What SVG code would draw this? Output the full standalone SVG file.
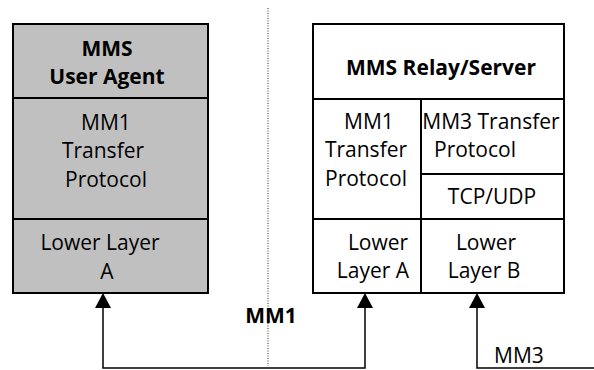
<svg xmlns="http://www.w3.org/2000/svg" width="594" height="370" viewBox="0 0 594 370">
<defs>
<style>
.box{stroke:#000;stroke-width:2;}
.div{stroke:#000;stroke-width:2;fill:none;}
.t{font-family:"Open Sans","Liberation Sans",sans-serif;font-size:21px;fill:#000;text-anchor:middle;}
.b{font-weight:bold;}
.conn{stroke:#000;stroke-width:1.5;fill:none;}
</style>
</defs>
<rect width="594" height="370" fill="#fff"/>
<line x1="268" y1="8" x2="268" y2="366" stroke="#333" stroke-width="1" stroke-dasharray="1,1.5"/>
<g id="user-agent">
<rect class="box" x="13" y="24" width="195" height="269" fill="#c0c0c0"/>
<line class="div" x1="13" y1="98" x2="208" y2="98"/>
<line class="div" x1="13" y1="219" x2="208" y2="219"/>
<text class="t b" x="107" y="56">MMS</text>
<text class="t b" x="107" y="84">User Agent</text>
<text class="t" x="106" y="130">MM1</text>
<text class="t" x="103" y="158">Transfer</text>
<text class="t" x="106" y="187">Protocol</text>
<text class="t" x="100" y="250">Lower Layer</text>
<text class="t" x="107" y="279">A</text>
</g>
<g id="relay-server">
<rect class="box" x="313" y="24" width="251" height="269" fill="#fff"/>
<line class="div" x1="313" y1="99" x2="564" y2="99"/>
<line class="div" x1="421" y1="99" x2="421" y2="293"/>
<line class="div" x1="421" y1="174" x2="564" y2="174"/>
<line class="div" x1="313" y1="219" x2="564" y2="219"/>
<text class="t b" x="441" y="75">MMS Relay/Server</text>
<text class="t" x="369" y="129">MM1</text>
<text class="t" x="366" y="157">Transfer</text>
<text class="t" x="366" y="186">Protocol</text>
<text class="t" x="491" y="129">MM3 Transfer</text>
<text class="t" x="475" y="157">Protocol</text>
<text class="t" x="492" y="204">TCP/UDP</text>
<text class="t" x="378" y="250">Lower</text>
<text class="t" x="373" y="278">Layer A</text>
<text class="t" x="486" y="250">Lower</text>
<text class="t" x="484" y="278">Layer B</text>
</g>
<g id="connectors">
<path class="conn" d="M103,308 L103,368 L365,368 L365,308"/>
<path d="M95,308 L103,293 L111,308 Z" fill="#000"/>
<path d="M357,308 L365,293 L373,308 Z" fill="#000"/>
<path class="conn" d="M594,368 L477,368 L477,308"/>
<path d="M469,308 L477,293 L485,308 Z" fill="#000"/>
<text class="t b" x="271" y="323">MM1</text>
<text class="t" x="519" y="363">MM3</text>
</g>
</svg>
